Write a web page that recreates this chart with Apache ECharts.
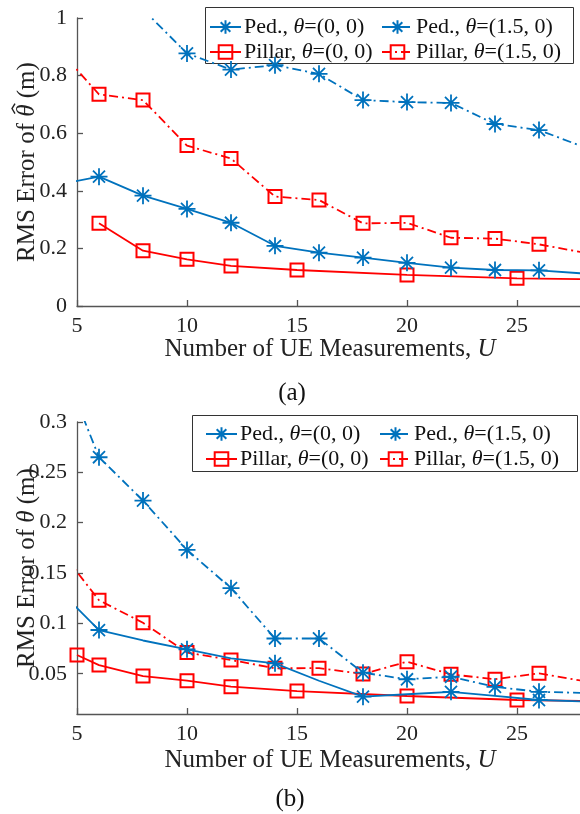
<!DOCTYPE html>
<html>
<head>
<meta charset="utf-8">
<script src="https://cdn.jsdelivr.net/npm/echarts@6/dist/echarts.min.js"></script>
<style>html,body{margin:0;padding:0;background:#fff}#c{width:580px;height:814px}</style>
</head>
<body>
<div id="c"></div>
<script>
// ---------- data ----------
const seriesLabels = ['Ped., {i|θ}=(0, 0)', 'Pillar, {i|θ}=(0, 0)', 'Ped., {i|θ}=(1.5, 0)', 'Pillar, {i|θ}=(1.5, 0)'];
const xTicks = [5, 10, 15, 20, 25];
const yTicksTop = [0, 0.2, 0.4, 0.6, 0.8, 1];
const yTicksBottom = [0.05, 0.1, 0.15, 0.2, 0.25, 0.3];

// (a) top panel
const aPedZeroU = [4, 6, 8, 10, 12, 14, 16, 18, 20, 22, 24, 26, 28];
const aPedZeroV = [0.42, 0.449, 0.383, 0.337, 0.289, 0.209, 0.185, 0.168, 0.150, 0.133, 0.125, 0.124, 0.113];
const aPedZeroMarks = [6, 8, 10, 12, 14, 16, 18, 20, 22, 24, 26];

const aPilZeroU = [6, 8, 10, 12, 15, 20, 25, 28];
const aPilZeroV = [0.287, 0.192, 0.162, 0.139, 0.125, 0.108, 0.096, 0.093];
const aPilZeroMarks = [6, 8, 10, 12, 15, 20, 25];

const aPedOffU = [8, 10, 12, 14, 16, 18, 20, 22, 24, 26, 28];
const aPedOffV = [1.03, 0.877, 0.821, 0.836, 0.806, 0.715, 0.708, 0.705, 0.632, 0.611, 0.553];
const aPedOffMarks = [10, 12, 14, 16, 18, 20, 22, 24, 26];

const aPilOffU = [4, 6, 8, 10, 12, 14, 16, 18, 20, 22, 24, 26, 28];
const aPilOffV = [0.905, 0.735, 0.715, 0.557, 0.512, 0.380, 0.368, 0.287, 0.289, 0.237, 0.234, 0.214, 0.186];
const aPilOffMarks = [6, 8, 10, 12, 14, 16, 18, 20, 22, 24, 26];

// (b) bottom panel
const bPedZeroU = [4, 6, 8, 10, 12, 14, 16, 18, 20, 22, 24, 26, 28];
const bPedZeroV = [0.137, 0.0934, 0.083, 0.0742, 0.0653, 0.0603, 0.043, 0.0272, 0.0296, 0.032, 0.028, 0.0239, 0.0225];
const bPedZeroMarks = [6, 10, 14, 18, 22, 26];

const bPilZeroU = [5, 6, 8, 10, 12, 15, 20, 25, 28];
const bPilZeroV = [0.0686, 0.0586, 0.0477, 0.0431, 0.0371, 0.0328, 0.0279, 0.0239, 0.0229];
const bPilZeroMarks = [5, 6, 8, 10, 12, 15, 20, 25];

const bPedOffU = [4, 6, 8, 10, 12, 14, 16, 18, 20, 22, 24, 26, 28];
const bPedOffV = [0.375, 0.265, 0.222, 0.173, 0.135, 0.085, 0.085, 0.051, 0.0445, 0.047, 0.037, 0.032, 0.031];
const bPedOffMarks = [6, 8, 10, 12, 14, 16, 18, 20, 22, 24, 26];

const bPilOffU = [4, 6, 8, 10, 12, 14, 16, 18, 20, 22, 24, 26, 28];
const bPilOffV = [0.179, 0.123, 0.1006, 0.071, 0.0636, 0.0554, 0.0555, 0.0497, 0.0619, 0.0494, 0.0445, 0.0504, 0.0428];
const bPilOffMarks = [6, 8, 10, 12, 14, 16, 18, 20, 22, 24, 26];

// ---------- styling ----------
const BLUE = '#0072BD', RED = '#FF0000';
const FONT = 'Liberation Serif';
const STAR = 'path://M0,-10L0,10M-10,0L10,0M-7.07,-7.07L7.07,7.07M-7.07,7.07L7.07,-7.07';
const DASHDOT = [9, 4, 2, 4];

function build(us, vs, marks) {
  return us.map((u, i) => marks.indexOf(u) >= 0 ? [u, vs[i]] : { value: [u, vs[i]], symbol: 'none' });
}
function mk(name, grid, us, vs, marks, kind, dashed) {
  const isPed = kind === 'ped';
  const col = isPed ? BLUE : RED;
  return {
    name: name, type: 'line', xAxisIndex: grid, yAxisIndex: grid,
    data: build(us, vs, marks),
    symbol: isPed ? STAR : 'rect',
    symbolSize: isPed ? 17 : 13,
    showAllSymbol: true,
    clip: true,
    lineStyle: { color: col, width: 1.8, type: dashed ? DASHDOT : 'solid' },
    itemStyle: { color: isPed ? col : 'rgba(255,255,255,0)', borderColor: col, borderWidth: isPed ? 1.8 : 2 },
    emphasis: { disabled: true },
    animation: false, z: isPed ? 3 : 2
  };
}

const labelMap = { s1: seriesLabels[0], s2: seriesLabels[1], s3: seriesLabels[2], s4: seriesLabels[3] };

const gridTop = { left: 77, top: 18, width: 506, height: 288, containLabel: false, outerBoundsMode: 'none' };
const gridBot = { left: 77, top: 422, width: 506, height: 292, containLabel: false, outerBoundsMode: 'none' };

const richI = { fontFamily: FONT, fontSize: 25, fontStyle: 'italic', color: '#222' };

function xAxis(idx, nameGap) {
  return {
    type: 'value', gridIndex: idx, min: 5, max: 28,
    name: 'Number of UE Measurements, {i|U}', nameLocation: 'middle', nameGap: nameGap, nameMoveOverlap: false,
    nameTextStyle: { fontFamily: FONT, fontSize: 25, color: '#222', rich: { i: richI } },
    axisLine: { show: true, onZero: false, lineStyle: { color: '#555', width: 1.3 } },
    axisTick: { show: true, inside: true, length: 6, customValues: xTicks, lineStyle: { color: '#555', width: 1.3 } },
    axisLabel: { customValues: xTicks, fontFamily: FONT, fontSize: 22, color: '#222', margin: 9 },
    splitLine: { show: false }
  };
}
function yAxis(idx, min, max, ticks, name) {
  return {
    type: 'value', gridIndex: idx, min: min, max: max,
    name: name, nameLocation: 'middle', nameGap: 37, nameRotate: 90, nameMoveOverlap: false,
    nameTextStyle: { fontFamily: FONT, fontSize: 25, color: '#222', rich: { i: richI } },
    axisLine: { show: true, onZero: false, lineStyle: { color: '#555', width: 1.3 } },
    axisTick: { show: true, inside: true, length: 6, customValues: ticks, lineStyle: { color: '#555', width: 1.3 } },
    axisLabel: { customValues: ticks, fontFamily: FONT, fontSize: 22, color: '#222', margin: 10 },
    splitLine: { show: false }
  };
}

function legend(left, top, data) {
  return {
    left: left, top: top, orient: 'vertical', data: data,
    itemWidth: 31, itemHeight: 17, itemGap: 3, padding: 0,
    selectedMode: false,
    formatter: n => labelMap[n],
    textStyle: { fontFamily: FONT, fontSize: 22, color: '#111', padding: [0, 0, 0, -2],
      rich: { i: { fontFamily: FONT, fontSize: 22, fontStyle: 'italic', color: '#111' } } }
  };
}

// hat accent over the italic theta of the rotated top y-axis title (placed from measured text widths)
function hatGraphic() {
  const ctx = document.createElement('canvas').getContext('2d');
  ctx.font = '25px "Liberation Serif"';
  const w1 = ctx.measureText('RMS Error of ').width;
  const w2 = ctx.measureText(' (m)').width;
  ctx.font = 'italic 25px "Liberation Serif"';
  const wt = ctx.measureText('θ').width;
  const W = w1 + wt + w2;
  const midY = gridTop.top + gridTop.height / 2;
  const cx = gridTop.left - 37 - 12.5;
  const ty = midY + W / 2 - w1 - wt / 2 - 2;
  const hx = cx - 15.5;
  return {
    type: 'polyline', z: 10, silent: true,
    shape: { points: [[hx + 3, ty + 5], [hx, ty], [hx + 3, ty - 5]] },
    style: { stroke: '#222', lineWidth: 1.4, fill: 'none' }
  };
}

const option = {
  animation: false,
  grid: [gridTop, gridBot],
  xAxis: [xAxis(0, 31), xAxis(1, 34)],
  yAxis: [
    yAxis(0, 0, 1, yTicksTop, 'RMS Error of {i|θ} (m)'),
    yAxis(1, 0.01, 0.3, yTicksBottom, 'RMS Error of {i|θ} (m)')
  ],
  legend: [
    legend(209, 16, ['s1', 's2']),
    legend(381, 16, ['s3', 's4']),
    legend(205, 423, ['s1', 's2']),
    legend(379, 423, ['s3', 's4'])
  ],
  graphic: [
    { type: 'rect', z: 3, shape: { x: 205.5, y: 7.5, width: 368, height: 56 }, style: { fill: '#fff', stroke: '#333', lineWidth: 1 } },
    { type: 'rect', z: 3, shape: { x: 192.5, y: 415.5, width: 385, height: 56 }, style: { fill: '#fff', stroke: '#333', lineWidth: 1 } },
    { type: 'text', z: 5, x: 292, y: 393, style: { text: '(a)', font: '25px "Liberation Serif"', fill: '#111', align: 'center', verticalAlign: 'middle' } },
    { type: 'text', z: 5, x: 290, y: 799, style: { text: '(b)', font: '25px "Liberation Serif"', fill: '#111', align: 'center', verticalAlign: 'middle' } },
    hatGraphic()
  ],
  series: [
    mk('s1', 0, aPedZeroU, aPedZeroV, aPedZeroMarks, 'ped', false),
    mk('s2', 0, aPilZeroU, aPilZeroV, aPilZeroMarks, 'pil', false),
    mk('s3', 0, aPedOffU, aPedOffV, aPedOffMarks, 'ped', true),
    mk('s4', 0, aPilOffU, aPilOffV, aPilOffMarks, 'pil', true),
    mk('s1', 1, bPedZeroU, bPedZeroV, bPedZeroMarks, 'ped', false),
    mk('s2', 1, bPilZeroU, bPilZeroV, bPilZeroMarks, 'pil', false),
    mk('s3', 1, bPedOffU, bPedOffV, bPedOffMarks, 'ped', true),
    mk('s4', 1, bPilOffU, bPilOffV, bPilOffMarks, 'pil', true)
  ]
};
const chart = echarts.init(document.getElementById('c'), null, { renderer: 'canvas' });
chart.setOption(option);
</script>
</body>
</html>
